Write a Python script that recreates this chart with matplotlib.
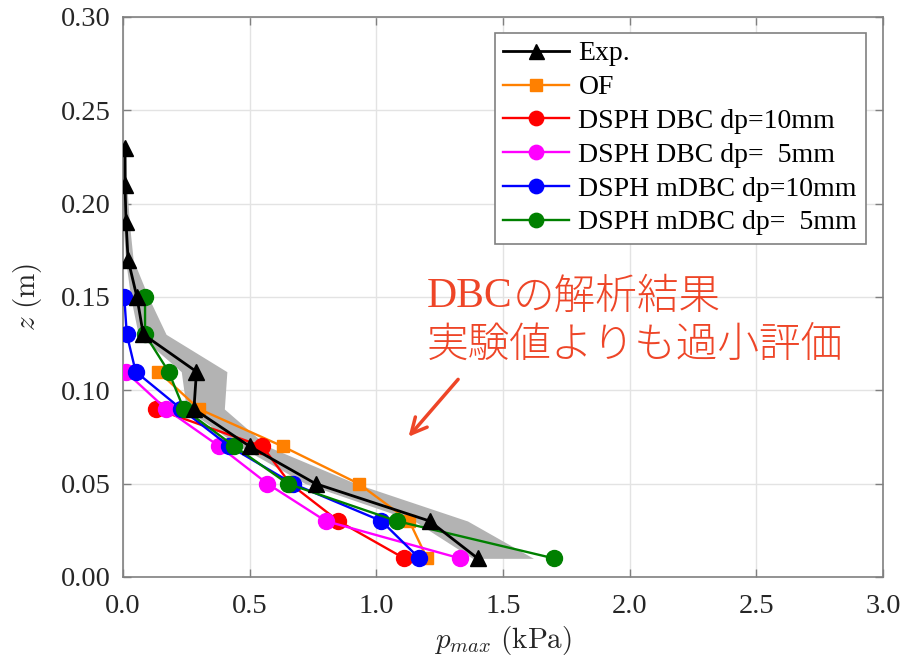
import matplotlib
matplotlib.use("Agg")
import matplotlib.pyplot as plt

plt.rcParams['font.family'] = ['Liberation Serif', 'Noto Sans CJK JP', 'DejaVu Sans']
plt.rcParams['mathtext.fontset'] = 'cm'

# ---- data ----
z_exp = [0.01, 0.03, 0.05, 0.07, 0.09, 0.11, 0.13, 0.15, 0.17, 0.19, 0.21, 0.23]
p_exp = [1.40, 1.21, 0.76, 0.50, 0.28, 0.29, 0.08, 0.055, 0.02, 0.012, 0.008, 0.008]

band_z = [0.01, 0.03, 0.05, 0.07, 0.09, 0.11, 0.13, 0.15, 0.17, 0.19, 0.21, 0.23]
band_lo = [1.38, 1.15, 0.72, 0.46, 0.25, 0.23, 0.06, 0.03, 0.01, 0.00, 0.00, 0.00]
band_hi = [1.62, 1.36, 0.92, 0.57, 0.40, 0.41, 0.17, 0.10, 0.04, 0.025, 0.015, 0.01]

z_of = [0.01, 0.03, 0.05, 0.07, 0.09, 0.11]
p_of = [1.20, 1.13, 0.93, 0.63, 0.30, 0.14]

z_dbc10 = [0.01, 0.03, 0.05, 0.07, 0.09]
p_dbc10 = [1.11, 0.85, 0.66, 0.55, 0.13]

z_dbc5 = [0.01, 0.03, 0.05, 0.07, 0.09, 0.11]
p_dbc5 = [1.33, 0.80, 0.57, 0.38, 0.17, 0.01]

z_mdbc10 = [0.01, 0.03, 0.05, 0.07, 0.09, 0.11, 0.13, 0.15]
p_mdbc10 = [1.17, 1.02, 0.67, 0.42, 0.23, 0.05, 0.015, 0.005]

z_mdbc5 = [0.01, 0.03, 0.05, 0.07, 0.09, 0.11, 0.13, 0.15]
p_mdbc5 = [1.70, 1.08, 0.65, 0.44, 0.24, 0.18, 0.087, 0.087]

labels = ['Exp.', 'OF', 'DSPH DBC dp=10mm', 'DSPH DBC dp=  5mm',
          'DSPH mDBC dp=10mm', 'DSPH mDBC dp=  5mm']
xticks = [0.0, 0.5, 1.0, 1.5, 2.0, 2.5, 3.0]
yticks = [0.00, 0.05, 0.10, 0.15, 0.20, 0.25, 0.30]

note1a = 'DBC'
note1b = 'の解析結果'
note2 = '実験値よりも過小評価'

# ---- figure ----
fig = plt.figure(figsize=(9.04, 6.64), dpi=100)
ax = fig.add_axes([123 / 904, 1 - 577 / 664, 760 / 904, 560 / 664])

ax.fill_betweenx(band_z, band_lo, band_hi, color='#b3b3b3', lw=0, zorder=1)

lw = 1.7
ax.plot(p_of, z_of, '-s', color='#ff8000', lw=lw, ms=9, label=labels[1], zorder=3)
ax.plot(p_dbc10, z_dbc10, '-o', color='#ff0000', lw=lw, ms=11.5, label=labels[2], zorder=3)
ax.plot(p_dbc5, z_dbc5, '-o', color='#ff00ff', lw=lw, ms=11.5, label=labels[3], zorder=3)
ax.plot(p_mdbc10, z_mdbc10, '-o', color='#0000ff', lw=lw, ms=11.5, label=labels[4], zorder=3)
ax.plot(p_mdbc5, z_mdbc5, '-o', color='#008000', lw=lw, ms=11.5, label=labels[5], zorder=3)
ax.plot(p_exp, z_exp, '-^', color='black', lw=2.0, ms=12, label=labels[0], zorder=4)

ax.set_xlim(0, 3.0)
ax.set_ylim(0, 0.30)
ax.set_xticks(xticks)
ax.set_yticks(yticks)
ax.set_xticklabels([f'{v:.1f}' for v in xticks])
ax.set_yticklabels([f'{v:.2f}' for v in yticks])
ax.tick_params(direction='in', length=6, width=1, color='#808080',
               labelsize=20.5, top=True, right=True, labelcolor='#262626')
ax.tick_params(axis='x', pad=12)
ax.tick_params(axis='y', pad=9)
ax.grid(True, color='#e3e3e3', lw=1, zorder=0)
ax.set_axisbelow(True)
for s in ax.spines.values():
    s.set_color('#808080')
    s.set_linewidth(1.2)

ax.set_xlabel(r'$p_{max}\ \mathrm{(kPa)}$', fontsize=21, labelpad=4, color='#262626')
ax.set_ylabel(r'$z\ \mathrm{(m)}$', fontsize=21, labelpad=12, color='#262626')

handles, labs = ax.get_legend_handles_labels()
order = [5, 0, 1, 2, 3, 4]
leg = ax.legend([handles[i] for i in order], [labs[i] for i in order],
                loc='upper right', bbox_to_anchor=(0.977, 0.972),
                borderaxespad=0, fontsize=20, fancybox=False, framealpha=1,
                edgecolor='#808080', handlelength=2.35, labelspacing=0.3,
                handletextpad=0.35, borderpad=0.3, markerscale=0.9)
leg.get_frame().set_linewidth(1.2)

red = '#ee4527'
t1 = ax.text(1.20, 0.150, note1a, fontsize=30, color=red, va='center', ha='left',
             family='Liberation Serif')
ax.annotate(note1b, xy=(1.0, 0.5), xycoords=t1, fontsize=30, color=red,
            va='center', ha='left', family=['Noto Sans CJK JP'], fontweight='light')
ax.text(1.20, 0.124, note2, fontsize=30, color=red, va='center', ha='left',
        family=['Noto Sans CJK JP'], fontweight='light')
ax.annotate('', xy=(1.12, 0.074), xytext=(1.33, 0.107),
            arrowprops=dict(arrowstyle='->', color=red, lw=2.5, mutation_scale=28))

fig.savefig('out.png', dpi=100)
